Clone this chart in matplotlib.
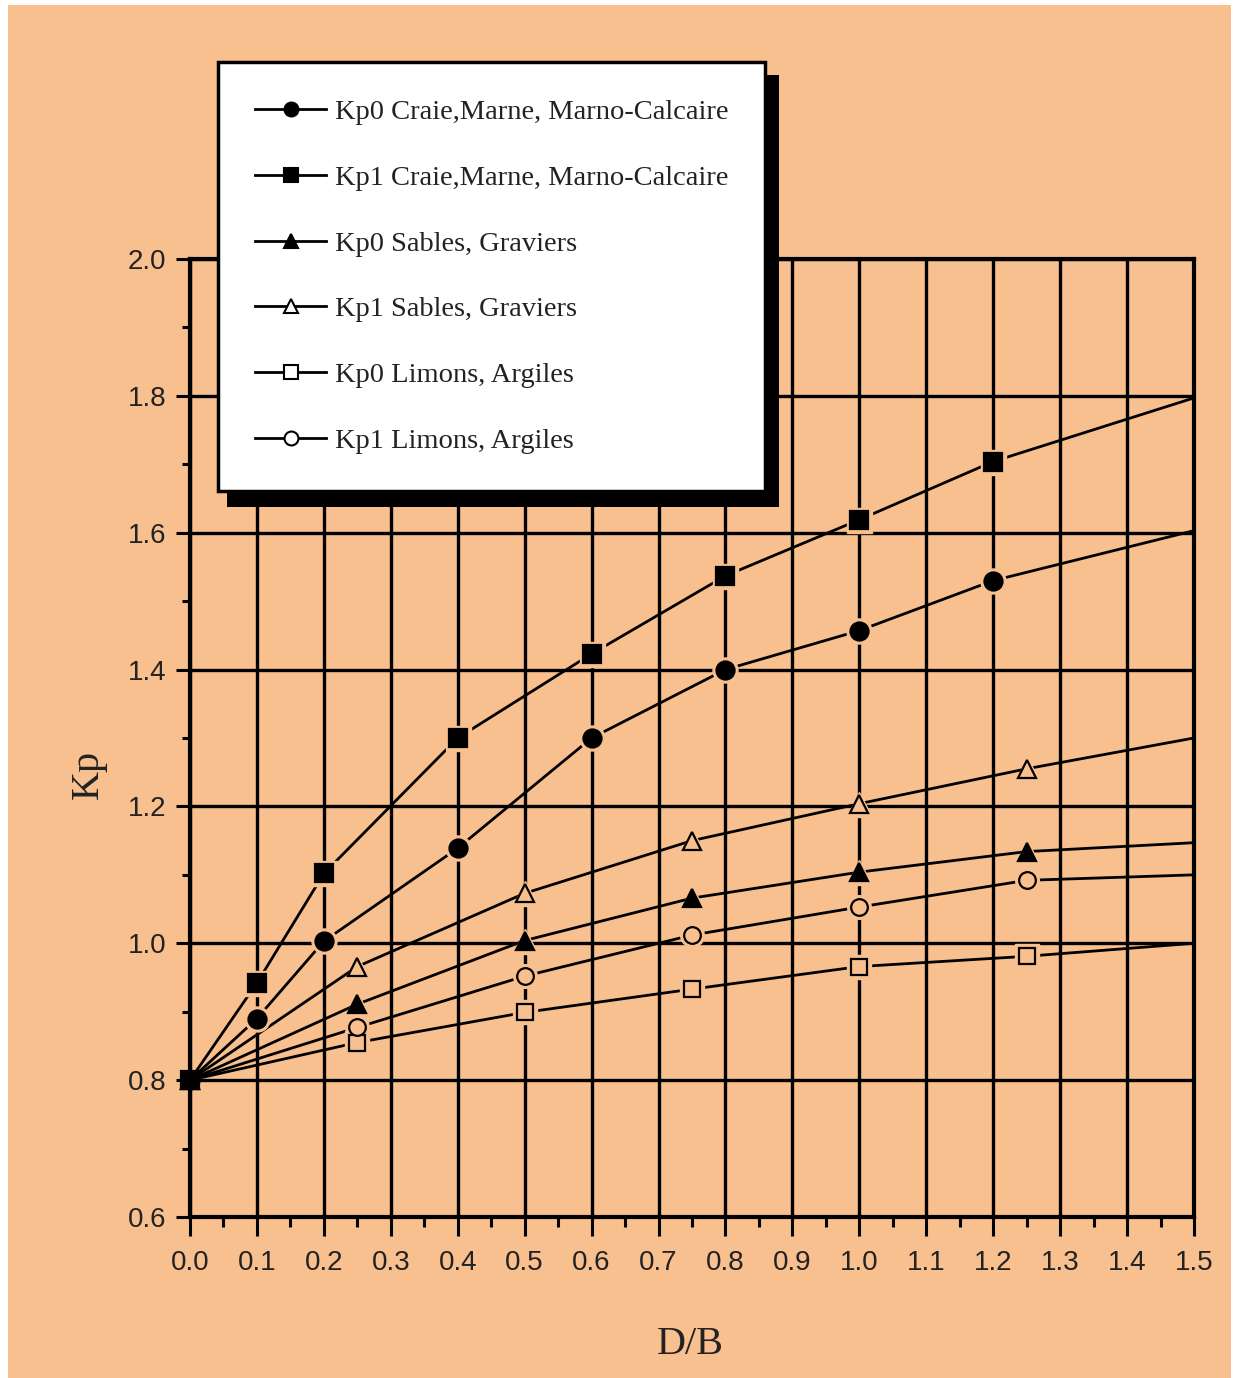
import matplotlib
matplotlib.use('Agg')
import matplotlib.pyplot as plt
import numpy as np
from matplotlib.lines import Line2D
from matplotlib.patches import Rectangle

# D/B values of the curves (last point only carries the line to 1.5)
x_craie = [0.0, 0.1, 0.2, 0.4, 0.6, 0.8, 1.0, 1.2, 1.5]
kp0_craie = [0.80, 0.89, 1.003, 1.139, 1.30, 1.40, 1.457, 1.53, 1.603]
kp1_craie = [0.80, 0.942, 1.102, 1.30, 1.423, 1.537, 1.619, 1.704, 1.797]

x_other = [0.0, 0.25, 0.5, 0.75, 1.0, 1.25, 1.5]
kp0_sables = [0.80, 0.911, 1.004, 1.066, 1.104, 1.134, 1.147]
kp1_sables = [0.80, 0.966, 1.073, 1.150, 1.204, 1.255, 1.300]
kp0_limons = [0.80, 0.855, 0.899, 0.933, 0.966, 0.981, 1.000]
kp1_limons = [0.80, 0.877, 0.952, 1.012, 1.053, 1.092, 1.100]

labels = ['Kp0 Craie,Marne, Marno-Calcaire',
          'Kp1 Craie,Marne, Marno-Calcaire',
          'Kp0 Sables, Graviers',
          'Kp1 Sables, Graviers',
          'Kp0 Limons, Argiles',
          'Kp1 Limons, Argiles']

xticks = np.arange(0, 1.51, 0.1)
yticks = np.arange(0.6, 2.01, 0.2)

bg = '#F8BF8F'
serif = ['Liberation Serif', 'DejaVu Serif']
sans = ['Liberation Sans', 'DejaVu Sans']

W, H = 1235, 1378
fig = plt.figure(figsize=(W / 100, H / 100), dpi=100, facecolor='white')
fig.patches.append(Rectangle((8 / W, 0), (1231 - 8) / W, 1 - 5 / H,
                             transform=fig.transFigure, facecolor=bg,
                             edgecolor='none', zorder=-10))

ax = fig.add_axes([190 / W, 1 - 1217 / H, (1194 - 190) / W, (1217 - 259) / H])
ax.set_facecolor(bg)

# marker, filled?, size
series = [
    (x_craie, kp0_craie, 'o', True, 13),
    (x_craie, kp1_craie, 's', True, 13),
    (x_other, kp0_sables, '^', True, 13),
    (x_other, kp1_sables, '^', False, 13),
    (x_other, kp0_limons, 's', False, 12),
    (x_other, kp1_limons, 'o', False, 12),
]

handles = []
for (xs, ys, m, filled, ms), lab in zip(series, labels):
    ax.plot(xs, ys, color='k', lw=2.0, zorder=3, clip_on=False)
    # small gap of background colour around each marker
    ax.plot(xs[1:-1], ys[1:-1], ls='none', marker=m, ms=ms + 5,
            mfc=bg, mec=bg, zorder=4)
    fc = 'k' if filled else bg
    ax.plot(xs[:-1], ys[:-1], ls='none', marker=m, ms=ms, mfc=fc,
            mec='k', mew=1.6, zorder=(6 if filled else 5), clip_on=False)
    handles.append(Line2D([], [], color='k', lw=2.0, marker=m, ms=10,
                          mfc=('k' if filled else 'white'), mec='k', mew=1.5))

ax.set_xlim(0, 1.5)
ax.set_ylim(0.6, 2.0)
ax.set_xticks(xticks)
ax.set_xticklabels(['%.1f' % v for v in xticks])
ax.set_xticks(np.arange(0.05, 1.5, 0.1), minor=True)
ax.set_yticks(yticks)
ax.set_yticklabels(['%.1f' % v for v in yticks])
ax.set_yticks(np.arange(0.7, 2.0, 0.2), minor=True)

ax.grid(True, which='major', color='k', lw=2.4, zorder=1)
for s in ax.spines.values():
    s.set_linewidth(3.0)

ax.tick_params(axis='x', which='major', direction='out', length=14, width=2.2,
               pad=10, labelsize=20, labelcolor='#222222')
ax.tick_params(axis='x', which='minor', direction='out', length=7, width=2.2)
ax.tick_params(axis='y', which='major', direction='out', length=10, width=2.2,
               pad=7, labelsize=20, labelcolor='#222222')
ax.tick_params(axis='y', which='minor', direction='out', length=6, width=2.2)
for t in ax.get_xticklabels() + ax.get_yticklabels():
    t.set_family(sans)

fig.text(88 / W, 1 - 774 / H, 'Kp', rotation=90, ha='center', va='center',
         fontsize=29, family=serif, color='#222222')
fig.text(690 / W, 1 - 1345 / H, 'D/B', ha='center', va='center',
         fontsize=29, family=serif, color='#222222')

# black drop shadow behind the legend box
fig.patches.append(Rectangle((227 / W, 1 - 507 / H), (779 - 227) / W,
                             (507 - 75) / H, transform=fig.transFigure,
                             facecolor='k', edgecolor='none', zorder=4))

leg = fig.legend(handles, labels, loc='upper left',
                 bbox_to_anchor=(218 / W, 1 - 62 / H), borderaxespad=0,
                 frameon=True, fancybox=False, framealpha=1,
                 edgecolor='k', facecolor='white',
                 prop={'family': serif, 'size': 20.5},
                 handlelength=2.5, handletextpad=0.3, labelspacing=1.4,
                 borderpad=1.3)
leg.get_frame().set_linewidth(2.5)
leg.set_zorder(6)
for t in leg.get_texts():
    t.set_color('#222222')

fig.savefig('out.png', dpi=100, facecolor='white')
